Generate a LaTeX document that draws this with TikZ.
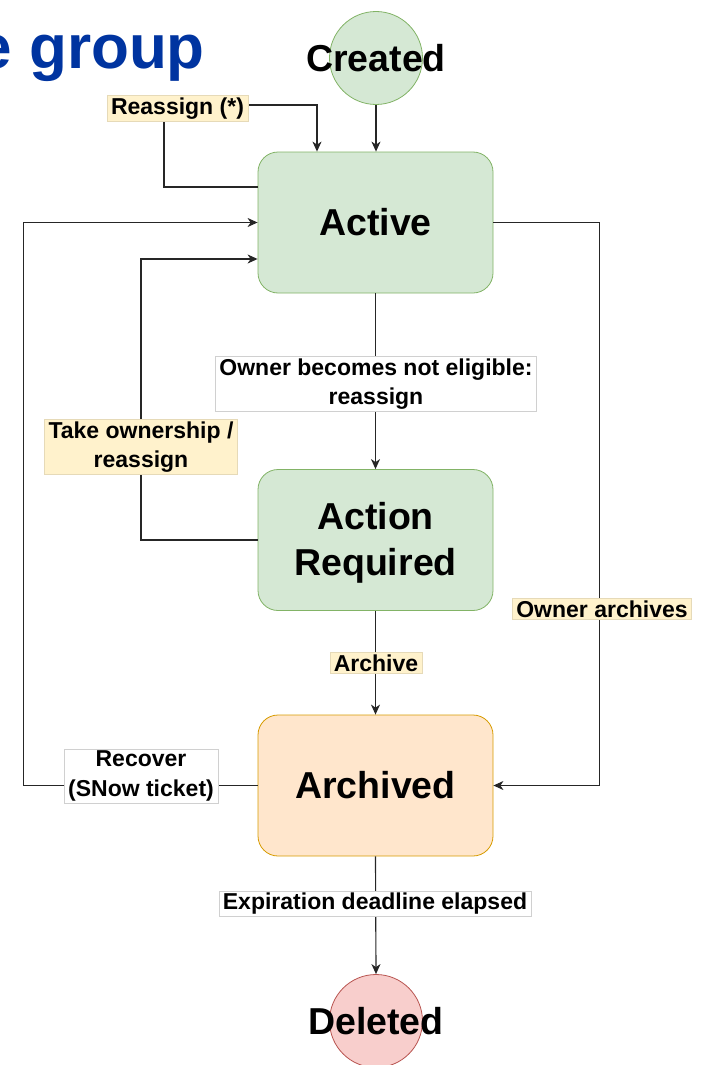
\documentclass[tikz,border=0pt]{standalone}
\usepackage{fontspec}
\setmainfont{Liberation Sans}
\usetikzlibrary{arrows.meta,positioning}

\definecolor{greenfill}{HTML}{D5E8D4}
\definecolor{greenline}{HTML}{82B366}
\definecolor{orangefill}{HTML}{FFE6CC}
\definecolor{orangeline}{HTML}{D79B00}
\definecolor{redfill}{HTML}{F8CECC}
\definecolor{redline}{HTML}{B85450}
\definecolor{notefill}{HTML}{FFF2CC}
\definecolor{noteline}{HTML}{E6DAB8}
\definecolor{boxline}{HTML}{D0D0D0}
\definecolor{titleblue}{HTML}{0034A0}
\definecolor{wire}{HTML}{262626}

\tikzset{
  statebox/.style={rectangle, rounded corners=20pt, minimum width=235pt, minimum height=141pt,
    inner sep=0pt, align=center, line width=0.8pt,
    font=\bfseries\fontsize{37.5}{45.5}\selectfont},
  endpoint/.style={circle, minimum size=93pt, inner sep=0pt, line width=0.8pt},
  endtext/.style={inner sep=0pt, align=center, font=\bfseries\fontsize{37.5}{45.5}\selectfont},
  wirearrow/.style={draw=wire, line width=1.15pt, -{Stealth[length=10pt,width=9pt,inset=3pt]}},
  tag/.style={inner xsep=4pt, inner ysep=2pt, align=center, line width=0.5pt,
    font=\bfseries\fontsize{23}{29.5}\selectfont},
  whitetag/.style={tag, fill=white, draw=boxline},
  yellowtag/.style={tag, fill=notefill, draw=noteline},
}

\begin{document}
\begin{tikzpicture}[x=1pt,y=-1pt]
  \useasboundingbox (0,0) rectangle (702,1065);
  \clip (0,0) rectangle (702,1065);

  % heading fragment
  \node[anchor=base east, inner sep=0pt, text=titleblue,
        font=\bfseries\fontsize{62}{70}\selectfont] (heading) at (205,69) {e group};

  % states
  \node[endpoint, fill=greenfill, draw=greenline] (created) at (376,58) {};
  \node[endtext] (createdtext) at (376,58) {Created};
  \node[statebox, fill=greenfill, draw=greenline] (active) at (375.5,222.5) {Active};
  \node[statebox, fill=greenfill, draw=greenline] (required) at (375.5,540) {};
  \node[endtext] (requiredtext) at (375.5,543) {Action\\Required};
  \node[statebox, fill=orangefill, draw=orangeline] (archived) at (375.5,785.5) {Archived};
  \node[endpoint, fill=redfill, draw=redline] (deleted) at (376,1021) {};
  \node[endtext] (deletedtext) at (376,1021) {Deleted};

  % transitions
  \draw[wirearrow] (created.south) -- (created.south |- active.north);
  \draw[wirearrow] ([yshift=35.5pt]active.west) -| (164,105) -| ([xshift=-58.5pt]active.north);
  \draw[wirearrow] (active.south) -- (required.north);
  \draw[wirearrow] (required.west) -| (141,259) -- ([yshift=-36.5pt]active.west);
  \draw[wirearrow] (archived.west) -| ([xshift=-234pt]active.west) -- (active.west);
  \draw[wirearrow] (active.east) -| ([xshift=106pt]archived.east) -- (archived.east);
  \draw[wirearrow] (required.south) -- (archived.north);
  \draw[wirearrow] (archived.south) -- (deleted.north);

  % transition labels
  \node[yellowtag] (lblreassign) at (177.5,108.5) {Reassign (*)};
  \node[whitetag] (lblineligible) at (376,384) {Owner becomes not eligible:\\reassign};
  \node[yellowtag] (lblownership) at (141,447) {Take ownership /\\reassign};
  \node[whitetag] (lblrecover) at (141,776) {Recover\\(SNow ticket)};
  \node[yellowtag] (lblownerarch) at (602,609) {Owner archives};
  \node[yellowtag] (lblarchive) at (376,663) {Archive};
  \node[whitetag] (lblexpire) at (375,903.5) {Expiration deadline elapsed};
\end{tikzpicture}
\end{document}
